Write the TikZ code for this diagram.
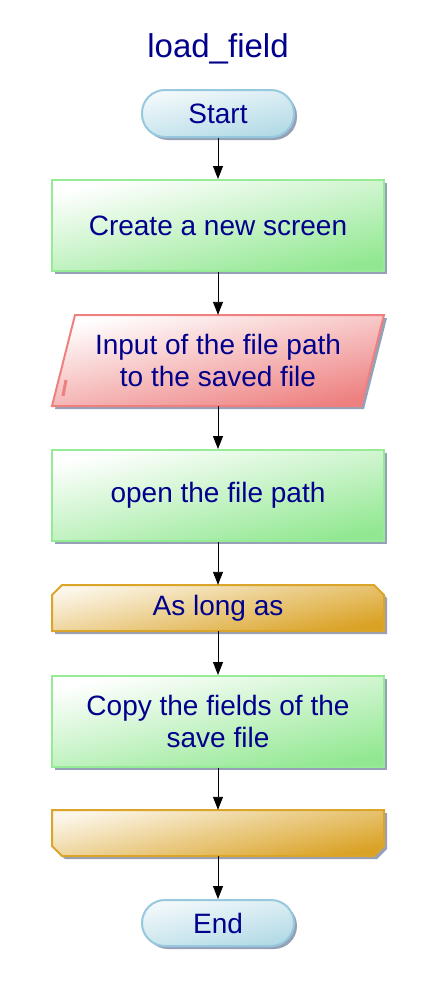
\documentclass[tikz,border=0pt]{standalone}
\usepackage{fontspec}
\setmainfont{Liberation Sans}
\usetikzlibrary{arrows.meta,shadows}
\definecolor{txt}{RGB}{0,0,140}
\definecolor{shadowc}{RGB}{150,160,182}
\definecolor{grnB}{RGB}{150,236,150}
\definecolor{grnF}{RGB}{146,232,146}
\definecolor{redB}{RGB}{238,128,128}
\definecolor{redF}{RGB}{238,128,128}
\definecolor{golB}{RGB}{218,165,40}
\definecolor{golF}{RGB}{218,162,36}
\definecolor{bluB}{RGB}{150,200,222}
\definecolor{bluF}{RGB}{178,218,230}
\tikzset{
  lbl/.style={text=txt,font=\fontsize{28}{32}\selectfont,align=center},
  sh/.style={drop shadow={shadow xshift=3pt,shadow yshift=-3pt,fill=shadowc,opacity=1}},
  procbox/.style={lbl,draw=grnB,line width=2pt,top color=white,bottom color=grnF,shading angle=12,
    minimum width=332pt,minimum height=91pt,inner sep=0pt,sh},
  term/.style={lbl,draw=bluB,line width=2pt,top color=white!85!bluF,bottom color=bluF,shading angle=12,
    minimum width=152pt,minimum height=47pt,rounded corners=23pt,inner sep=0pt,sh},
  ghost/.style={lbl,minimum width=332pt,inner sep=0pt},
  arr/.style={draw=black,line width=0.9pt,-{Triangle[width=10pt,length=13pt]}},
}
\begin{document}
\begin{tikzpicture}[x=1pt,y=-1pt]
\useasboundingbox (0,0) rectangle (435,990);
\node[text=txt,font=\fontsize{33}{38}\selectfont,anchor=base] (title) at (218,57) {load\_field};

\node[term] (start) at (218,113.5) {Start};
\node[procbox] (b1) at (218,225.5) {Create a new screen};

% input parallelogram
\fill[shadowc] (78,318) -- (387,318) -- (364,409) -- (55,409) -- cycle;
\shade[top color=white,bottom color=redF,shading angle=12,draw=redB,line width=2pt]
  (75,315) -- (384,315) -- (361,406) -- (52,406) -- cycle;
\draw[redB,line width=3pt] (66,380) -- (63,396);
\node[ghost,minimum height=91pt] (inp) at (218,360.5) {Input of the file path\\to the saved file};

\node[procbox] (b2) at (218,495.5) {open the file path};

% loop start
\fill[shadowc] (65,588) -- (377,588) -- (387,598) -- (387,634) -- (55,634) -- (55,598) -- cycle;
\shade[top color=white!90!golF,bottom color=golF,shading angle=12,draw=golB,line width=2pt]
  (62,585) -- (374,585) -- (384,595) -- (384,631) -- (52,631) -- (52,595) -- cycle;
\node[ghost,minimum height=46pt] (la) at (218,608) {As long as};

\node[procbox] (b3) at (218,721.5) {Copy the fields of the\\save file};

% loop end
\fill[shadowc] (55,813) -- (387,813) -- (387,849) -- (377,859) -- (65,859) -- (55,849) -- cycle;
\shade[top color=white!90!golF,bottom color=golF,shading angle=12,draw=golB,line width=2pt]
  (52,810) -- (384,810) -- (384,846) -- (374,856) -- (62,856) -- (52,846) -- cycle;
\node[ghost,minimum height=46pt] (lb) at (218,833) {};

\node[term,minimum height=46pt] (end) at (218,923) {End};

\draw[arr] (start) -- (b1);
\draw[arr] (b1) -- (inp);
\draw[arr] (inp) -- (b2);
\draw[arr] (b2) -- (la);
\draw[arr] (la) -- (b3);
\draw[arr] (b3) -- (lb);
\draw[arr] (lb) -- (end);
\end{tikzpicture}
\end{document}
